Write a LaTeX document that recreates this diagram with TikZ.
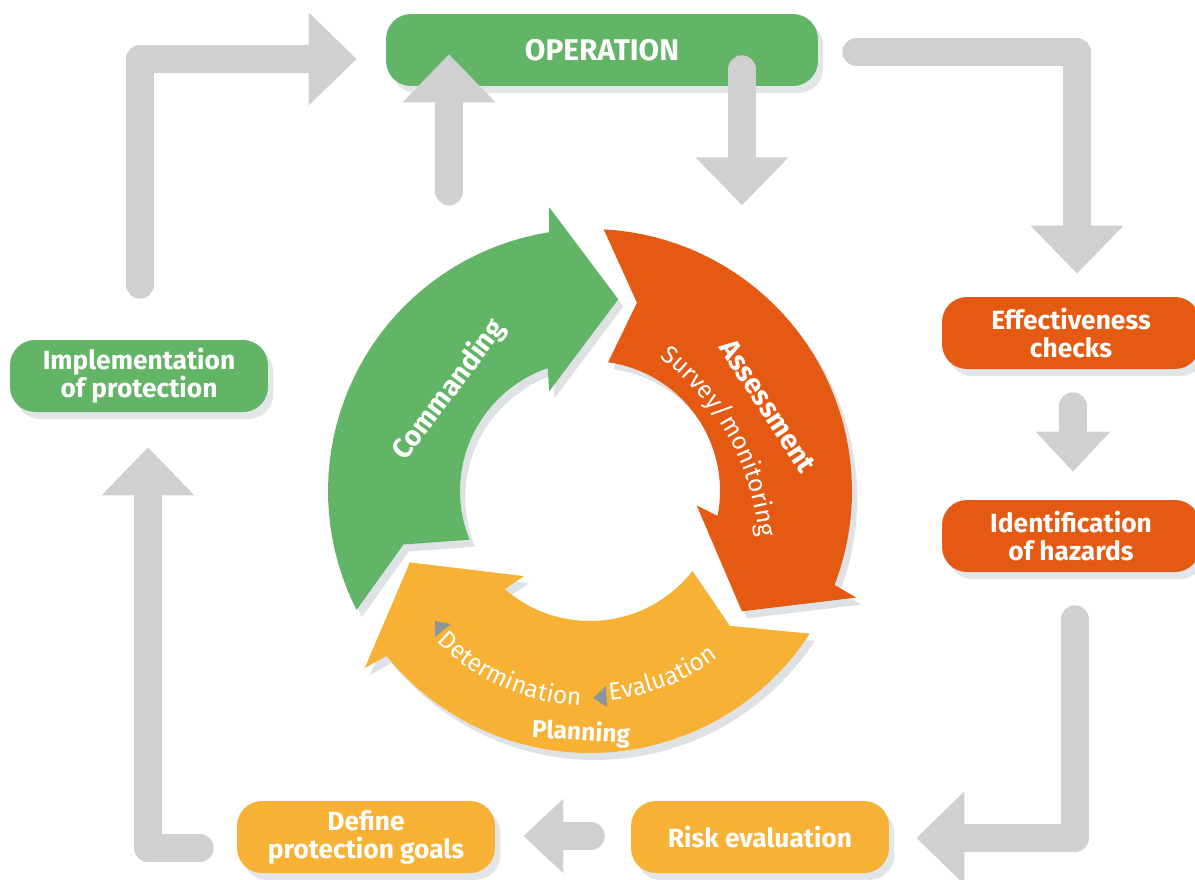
\documentclass[tikz,border=0pt]{standalone}
\usepackage{fontspec}
\setmainfont{Fira Sans}
\usepackage{xcolor}
\usepackage{tikz}
\usetikzlibrary{arrows.meta,calc,positioning,shadows,decorations.text}

\definecolor{opgreen}{HTML}{62B567}
\definecolor{riskorange}{HTML}{E45A12}
\definecolor{planyellow}{HTML}{F7B134}
\definecolor{flowgray}{HTML}{D0D0D0}
\definecolor{markgray}{HTML}{8A959C}
\definecolor{shadegray}{HTML}{A3ADB5}

\begin{document}
\begin{tikzpicture}[
    x=0.02cm, y=-0.02cm,
    box/.style={rounded corners=0.5cm, minimum width=5.16cm, minimum height=1.44cm,
        align=center, text=white, font=\bfseries\fontsize{15}{16}\selectfont,
        drop shadow={shadow xshift=3pt, shadow yshift=-4pt, opacity=0.3, fill=shadegray}},
    flow/.style={draw=flowgray, line width=0.56cm, line cap=round, line join=round,
        -{Triangle[width=1.8cm, length=0.96cm]}},
    smallflow/.style={flow, -{Triangle[width=1.44cm, length=0.8cm]}},
    ringshade/.style={drop shadow={shadow xshift=3pt, shadow yshift=-4pt, opacity=0.35, fill=shadegray}},
    ringtext/.style={text=white, font=\bfseries\fontsize{16}{18}\selectfont}
]
    \useasboundingbox (0,0) rectangle (1195,879);

    % Boxes
    \node[box, fill=opgreen, minimum width=8.64cm, font=\bfseries\fontsize{17}{18}\selectfont] (op) at (602,50) {OPERATION};
    \node[box, fill=riskorange] (eff) at (1071,333) {Effectiveness\\checks};
    \node[box, fill=riskorange] (haz) at (1071,536) {Identification\\of hazards};
    \node[box, fill=planyellow] (risk) at (760,837) {Risk evaluation};
    \node[box, fill=planyellow] (goals) at (366,837) {Define\\protection goals};
    \node[box, fill=opgreen] (impl) at (139,376) {Implementation\\of protection};

    % Outer loop
    \draw[flow] ($(impl.north)+(1,-55)$) |- ($(op.west)+(-29,9)$);
    \draw[flow] ($(op.south)+(-153,105)$) -- ($(op.south)+(-153,-32)$);
    \draw[flow] ($(op.south)+(140,-17)$) -- ($(op.south)+(140,119)$);
    \draw[flow] ($(op.east)+(38,2)$) -| ($(eff.north)+(6,-23)$);
    \draw[smallflow] ($(eff.south)+(2,37)$) -- ($(haz.north)+(2,-28)$);
    \draw[flow] ($(haz.south)+(4,47)$) |- ($(risk.east)+(27,1)$);
    \draw[smallflow] ($(risk.west)+(-40,-1)$) -- ($(goals.east)+(28,-1)$);
    \draw[flow] ($(goals.west)+(-37,11)$) -| ($(impl.south)+(9,35)$);

    % Inner cycle
    \coordinate (ring) at (590,491);
    \begin{scope}[shift={(ring)}]
        \foreach \h/\col in {258/opgreen, 18/riskorange, 138/planyellow} {
            \fill[\col, ringshade] (\h-105:262)
                -- plot[domain=\h-105:\h+3, samples=40] (\x:262)
                -- ({196*cos(\h)+92*cos(\h+12)}, {196*sin(\h)+92*sin(\h+12)})
                -- ({196*cos(\h)+69*cos(\h+102)}, {196*sin(\h)+69*sin(\h+102)})
                -- ({196*cos(\h)-92*cos(\h+12)}, {196*sin(\h)-92*sin(\h+12)})
                -- (\h-7:130)
                -- plot[domain=\h-7:\h-100, samples=40] (\x:130)
                -- (\h-94:194) -- cycle;
        }
        \path[decorate, decoration={text along path, text align=center, text color=white,
            text={|\fontsize{14}{16}\selectfont|Survey/monitoring}}]
            plot[domain=-56:-2, samples=40] ({-82+252*cos(\x)}, {68+252*sin(\x)});
        \path[decorate, decoration={text along path, text align=center, text color=white,
            text={|\fontsize{14}{16}\selectfont|Determination}}]
            plot[domain=136:92, samples=40] (\x:215);
        \path[decorate, decoration={text along path, text align=center, text color=white,
            text={|\fontsize{14}{16}\selectfont|Evaluation}}]
            plot[domain=87:50, samples=40] (\x:210);
    \end{scope}

    \node[ringtext, rotate=53] (cmd) at (449,390) {Commanding};
    \node[ringtext, rotate=-57] (assess) at (768,406) {Assessment};
    \node[ringtext, font=\bfseries\fontsize{14}{16}\selectfont, rotate=-3] (plan) at (581,733) {Planning};

    \fill[markgray] (435,621) -- (451,624) -- (435,637) -- cycle;
    \fill[markgray] (593,698) -- (606,686) -- (607,707) -- cycle;
\end{tikzpicture}
\end{document}
